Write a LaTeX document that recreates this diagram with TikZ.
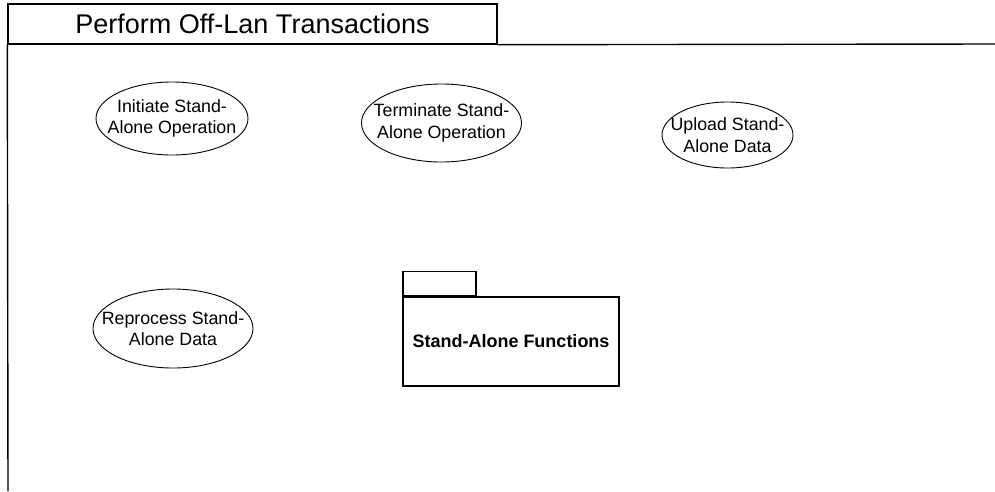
\documentclass[tikz,border=0pt]{standalone}
\usepackage{fontspec}
\setmainfont{Liberation Sans}
\usetikzlibrary{shapes.geometric}
\begin{document}
\begin{tikzpicture}[x=1pt,y=-1pt,
  frameline/.style={line width=1.4pt},
  usecase/.style={draw, ellipse, line width=0.9pt, inner sep=0pt},
  casetext/.style={align=center, inner sep=0pt, font=\fontsize{17.8}{21.5}\selectfont},
  pkgbody/.style={draw, rectangle, line width=1.2pt, inner sep=0pt,
    font=\fontsize{18}{22}\selectfont\bfseries},
  pkgtab/.style={draw, rectangle, line width=1.2pt, inner sep=0pt},
  titletab/.style={draw, rectangle, frameline, inner sep=0pt,
    font=\fontsize{27}{32}\selectfont}]
  \useasboundingbox (0,0) rectangle (995,491);

  % frame with its name tab
  \node[titletab, minimum width=489pt, minimum height=40pt] (title) at (252.5,24)
    {Perform Off-Lan Transactions};
  \coordinate (frameR) at (995,44);
  \coordinate (frameB) at (8,491);
  \draw[frameline] (title.south east) -- (frameR);
  \draw[frameline] (title.south west) -- (frameB);

  % use cases: outline first, then the two-line name on top
  \node[usecase, minimum width=152pt, minimum height=73pt] (init) at (172,118.5) {};
  \node[casetext] (initT) at (init.center) {Initiate Stand-\\Alone Operation};
  \node[usecase, minimum width=160pt, minimum height=78pt] (term) at (441.5,123) {};
  \node[casetext] (termT) at (term.center) {Terminate Stand-\\Alone Operation};
  \node[usecase, minimum width=131pt, minimum height=66pt] (upload) at (727.5,135) {};
  \node[casetext] (uploadT) at (upload.center) {Upload Stand-\\Alone Data};
  \node[usecase, minimum width=160pt, minimum height=79pt] (reproc) at (173,328.5) {};
  \node[casetext] (reprocT) at (reproc.center) {Reprocess Stand-\\Alone Data};

  % package
  \node[pkgbody, minimum width=216pt, minimum height=89pt] (pkg) at (511,341.5)
    {Stand-Alone Functions};
  \node[pkgtab, anchor=south west, minimum width=73pt, minimum height=24pt] (pkgtab)
    at (pkg.north west) {};
\end{tikzpicture}
\end{document}
